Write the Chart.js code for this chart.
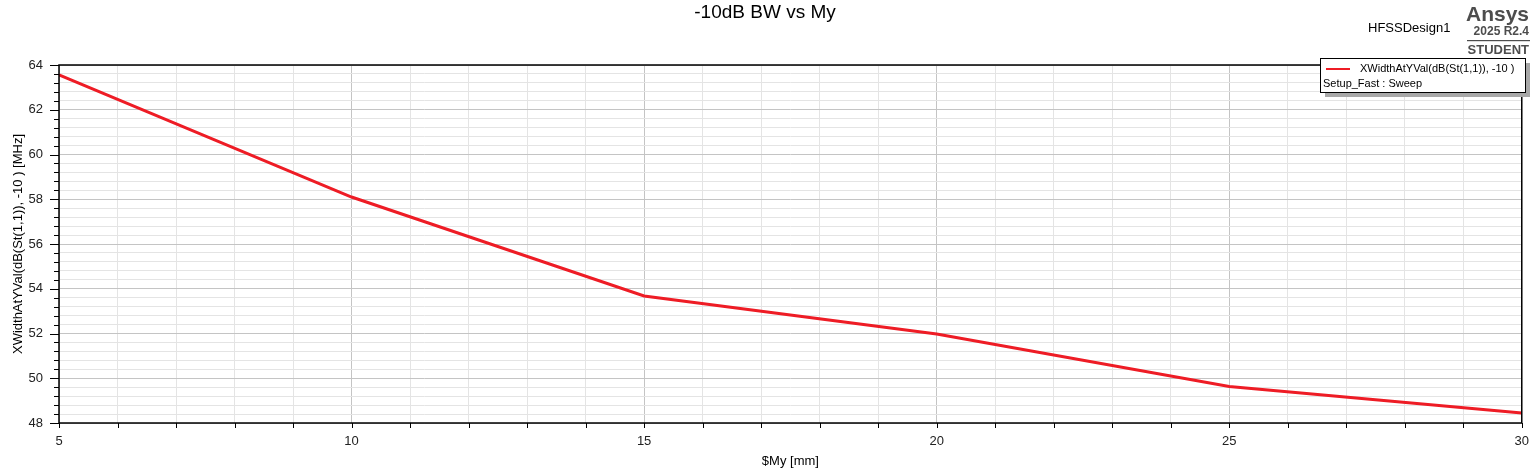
<!DOCTYPE html>
<html>
<head>
<meta charset="utf-8">
<script src="https://cdn.jsdelivr.net/npm/chart.js@4"></script>
<style>
  html, body { margin: 0; padding: 0; background: #fff; }
  #wrap { width: 1540px; height: 470px; }
</style>
</head>
<body>
<div id="wrap"><canvas id="myChart" width="1540" height="470"></canvas></div>
<script>
// values
var myValues = [5, 10, 15, 20, 25, 30];
var bwValues = [63.56, 58.1, 53.68, 51.98, 49.63, 48.45];
var seriesName = 'XWidthAtYVal(dB(St(1,1)), -10 )';
var setupName = 'Setup_Fast : Sweep';

var points = [];
for (var i = 0; i < myValues.length; i++) {
    points.push({x: myValues[i], y: bwValues[i]});
}

function isMult(v, m) {
    return Math.abs(v / m - Math.round(v / m)) < 1e-6;
}

var FONT = '"Liberation Sans", Arial, sans-serif';

// texts, box, tick marks and legend drawn around the plot
var decor = {
    id: 'decor',
    afterDraw: function(chart) {
        var c = chart.ctx;
        var a = chart.chartArea;
        var xs = chart.scales.x, ys = chart.scales.y;
        c.save();

        // frame
        c.strokeStyle = '#000';
        c.lineWidth = 1.5;
        c.strokeRect(a.left, a.top, a.right - a.left, a.bottom - a.top);

        // tick marks
        c.lineWidth = 1;
        c.beginPath();
        ys.ticks.forEach(function(t) {
            var y = Math.round(ys.getPixelForValue(t.value)) + 0.5;
            var len = isMult(t.value, 2) ? 9 : 5;
            c.moveTo(a.left - len, y);
            c.lineTo(a.left, y);
        });
        xs.ticks.forEach(function(t) {
            var x = Math.round(xs.getPixelForValue(t.value)) + 0.5;
            c.moveTo(x, a.bottom);
            c.lineTo(x, a.bottom + 5);
        });
        c.stroke();

        // title
        c.fillStyle = '#000';
        c.textAlign = 'center';
        c.textBaseline = 'middle';
        c.font = '19px ' + FONT;
        c.fillText('-10dB BW vs My', 765, 13);

        // axis titles
        c.font = '13px ' + FONT;
        c.fillText('$My [mm]', (a.left + a.right) / 2, 461);
        c.save();
        c.translate(18, (a.top + a.bottom) / 2);
        c.rotate(-Math.PI / 2);
        c.fillText('XWidthAtYVal(dB(St(1,1)), -10 ) [MHz]', 0, 0);
        c.restore();

        // design name and logo
        c.textAlign = 'left';
        c.font = '13px ' + FONT;
        c.fillText('HFSSDesign1', 1368, 28);
        c.fillStyle = '#4d4d4d';
        c.textAlign = 'right';
        c.font = 'bold 21px ' + FONT;
        c.fillText('Ansys', 1529, 15);
        c.font = 'bold 12px ' + FONT;
        c.fillText('2025 R2.4', 1529, 32);
        c.font = 'bold 13px ' + FONT;
        c.fillText('STUDENT', 1529, 50);
        c.fillStyle = '#4d4d4d';
        c.fillRect(1467, 40, 63, 1.2);

        // legend with shadow
        var lx = 1320, ly = 58, lw = 205, lh = 34;
        c.fillStyle = '#a8a8a8';
        c.fillRect(lx + 5, ly + 5, lw, lh);
        c.fillStyle = '#fff';
        c.fillRect(lx, ly, lw, lh);
        c.strokeStyle = '#000';
        c.lineWidth = 1;
        c.strokeRect(lx + 0.5, ly + 0.5, lw, lh);
        c.strokeStyle = '#ee1c25';
        c.lineWidth = 2;
        c.beginPath();
        c.moveTo(1326, 69);
        c.lineTo(1350, 69);
        c.stroke();
        c.fillStyle = '#000';
        c.textAlign = 'left';
        c.font = '11px ' + FONT;
        c.fillText(seriesName, 1360, 69);
        c.fillText(setupName, 1323, 84);

        c.restore();
    }
};

var ctx = document.getElementById('myChart').getContext('2d');
var myChart = new Chart(ctx, {
    type: 'line',
    data: {
        datasets: [{
            label: seriesName,
            data: points,
            borderColor: '#ee1c25',
            borderWidth: 3,
            pointRadius: 0,
            tension: 0,
            fill: false
        }]
    },
    options: {
        responsive: false,
        animation: false,
        devicePixelRatio: 1,
        layout: { padding: { left: 0, top: 65, right: 18, bottom: 0 } },
        plugins: {
            legend: { display: false },
            title: { display: false },
            tooltip: { enabled: false }
        },
        scales: {
            x: {
                type: 'linear',
                min: 5,
                max: 30,
                afterFit: function(s) { s.height = 47; },
                ticks: {
                    stepSize: 1,
                    autoSkip: false,
                    maxRotation: 0,
                    padding: 11,
                    color: '#222',
                    font: { family: FONT, size: 13 },
                    callback: function(v) { return isMult(v, 5) ? String(Math.round(v)) : ''; }
                },
                grid: {
                    drawTicks: false,
                    color: function(c) { return isMult(c.tick.value, 5) ? '#c4c4c4' : '#e4e4e4'; },
                    lineWidth: 1
                },
                border: { display: false }
            },
            y: {
                type: 'linear',
                min: 48,
                max: 64,
                afterFit: function(s) { s.width = 59; },
                ticks: {
                    stepSize: 0.4,
                    autoSkip: false,
                    padding: 16,
                    color: '#222',
                    font: { family: FONT, size: 13 },
                    callback: function(v) { return isMult(v, 2) ? String(Math.round(v)) : ''; }
                },
                grid: {
                    drawTicks: false,
                    color: function(c) { return isMult(c.tick.value, 2) ? '#c4c4c4' : '#e4e4e4'; },
                    lineWidth: 1
                },
                border: { display: false }
            }
        }
    },
    plugins: [decor]
});
</script>
</body>
</html>
